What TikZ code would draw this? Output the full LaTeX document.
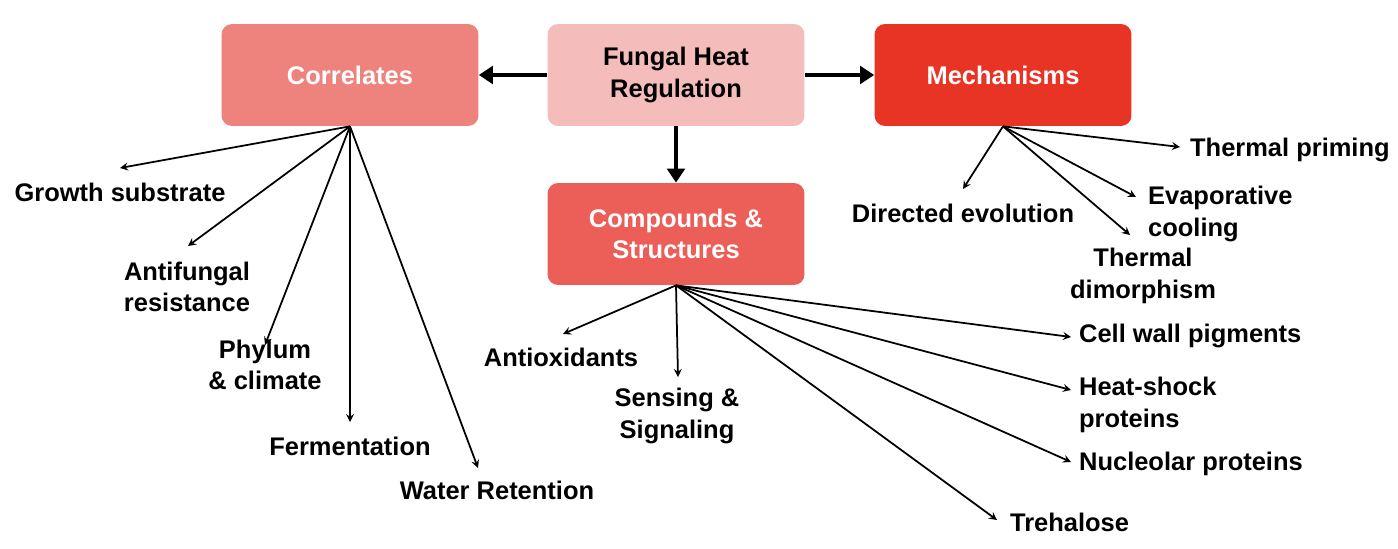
\documentclass[tikz,border=0pt]{standalone}
\usepackage{fontspec}
\setmainfont{Liberation Sans}
\usetikzlibrary{arrows.meta}
\definecolor{hub}{HTML}{F4BDBC}
\definecolor{corr}{HTML}{EE837E}
\definecolor{mech}{HTML}{E83425}
\definecolor{comp}{HTML}{EB5F58}
\begin{document}
\begin{tikzpicture}[
            x = 0.02cm, y = -0.02cm,
            > = stealth, % arrow head style
            font=\fontsize{14.5}{18}\selectfont\bfseries
  ]

        \tikzset{
            box/.style = {rounded corners = 6pt, minimum width = 5.14cm,
                minimum height = 2.04cm, align = center, text = white},
            lbl/.style = {align = center, inner sep = 1pt},
            lbll/.style = {align = left, inner sep = 1pt, anchor = west},
            big/.style = {-{Triangle[length=8pt,width=10pt]}, line width = 2.6pt},
            thin/.style = {->, line width = 1pt}
        }
        \useasboundingbox (0,0) rectangle (1398,548);

        \node[box, fill = hub, text = black] (hub) at (676, 75) {Fungal Heat\\Regulation};
        \node[box, fill = corr] (corr) at (350, 75) {Correlates};
        \node[box, fill = mech] (mech) at (1003, 75) {Mechanisms};
        \node[box, fill = comp] (comp) at (676, 234) {Compounds \&\\Structures};

        \draw[big] (hub) -- (corr);
        \draw[big] (hub) -- (mech);
        \draw[big] (hub) -- (comp);

        % correlates
        \node[lbl] (growth) at (120, 192) {Growth substrate};
        \node[lbl] (anti) at (187, 287) {Antifungal\\resistance};
        \node[lbl] (phyl) at (265, 365) {Phylum\\\& climate};
        \node[lbl] (ferm) at (350, 446) {Fermentation};
        \node[lbl] (water) at (497, 490) {Water Retention};
        \coordinate (growthT) at (120, 168);
        \coordinate (antiT) at (188, 246);
        \coordinate (phylT) at (265, 345);
        \coordinate (fermT) at (350, 422);
        \coordinate (waterT) at (478, 468);
        \foreach \t in {growthT, antiT, phylT, fermT, waterT}
            \draw[thin] (corr.south) -- (\t);

        % mechanisms
        \node[lbll] (prim) at (1188, 150) {Thermal priming};
        \node[lbl] (direc) at (963, 213) {Directed evolution};
        \node[lbll] (evap) at (1146, 214) {Evaporative\\cooling};
        \node[lbl] (dimo) at (1143, 276) {Thermal\\dimorphism};
        \coordinate (primT) at (1180, 147);
        \coordinate (direcT) at (963, 189);
        \coordinate (evapT) at (1136, 197);
        \coordinate (dimoT) at (1130, 235);
        \foreach \t in {primT, direcT, evapT, dimoT}
            \draw[thin] (mech.south) -- (\t);

        % compounds
        \node[lbl] (antiox) at (561, 357) {Antioxidants};
        \node[lbl] (sens) at (677, 416) {Sensing \&\\Signaling};
        \node[lbll] (wall) at (1077, 336) {Cell wall pigments};
        \node[lbll] (hsp) at (1077, 405) {Heat-shock\\proteins};
        \node[lbll] (nucl) at (1077, 464) {Nucleolar proteins};
        \node[lbll] (treh) at (1008, 522) {Trehalose};
        \coordinate (antioxT) at (563, 334);
        \coordinate (sensT) at (678, 377);
        \coordinate (wallT) at (1071, 337);
        \coordinate (hspT) at (1071, 390);
        \coordinate (nuclT) at (1071, 462);
        \coordinate (trehT) at (997, 520);
        \foreach \t in {antioxT, sensT, wallT, hspT, nuclT, trehT}
            \draw[thin] (comp.south) -- (\t);
    \end{tikzpicture}
\end{document}
